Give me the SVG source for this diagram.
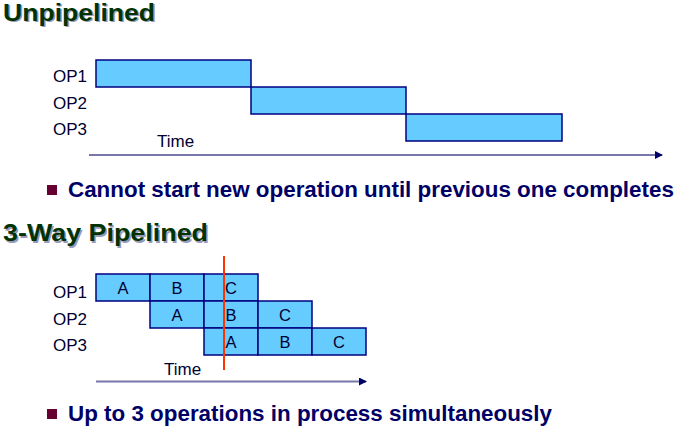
<svg xmlns="http://www.w3.org/2000/svg" width="677" height="426" viewBox="0 0 677 426">
<defs>
<style>
.title{font-family:"Liberation Sans",Arial,sans-serif;font-weight:bold;font-size:24px;fill:#003300}
.shadow{font-family:"Liberation Sans",Arial,sans-serif;font-weight:bold;font-size:24px;fill:#9999bb}
.lbl{font-family:"Liberation Sans",Arial,sans-serif;font-size:17px;fill:#000033}
.cell{font-family:"Liberation Sans",Arial,sans-serif;font-size:16.5px;fill:#000033;text-anchor:middle}
.bullet{font-family:"Liberation Sans",Arial,sans-serif;font-weight:bold;font-size:22.4px;fill:#000066}
.box{fill:#66ccff;stroke:#000080;stroke-width:1.5}
.axis{stroke:#7777aa;stroke-width:2;fill:none}
</style>
<marker id="arr" markerWidth="8" markerHeight="8" refX="7" refY="4" orient="auto" markerUnits="userSpaceOnUse">
<path d="M0,0 L8,4 L0,8 Z" fill="#000066"/>
</marker>
</defs>
<rect width="677" height="426" fill="#ffffff"/>

<g id="title1">
<text class="shadow" x="4.5" y="22" textLength="152" lengthAdjust="spacingAndGlyphs">Unpipelined</text>
<text class="title" x="3" y="20.5" textLength="152" lengthAdjust="spacingAndGlyphs">Unpipelined</text>
</g>

<g id="unpiped-labels">
<text class="lbl" x="53" y="81.5">OP1</text>
<text class="lbl" x="53" y="108.5">OP2</text>
<text class="lbl" x="53" y="135">OP3</text>
<text class="lbl" x="157" y="146.5">Time</text>
</g>
<g id="u-op1"><rect class="box" x="96" y="60" width="155" height="27"/></g>
<g id="u-op2"><rect class="box" x="251" y="87" width="155" height="27"/></g>
<g id="u-op3"><rect class="box" x="406" y="114" width="156" height="27"/></g>

<g id="connectors">
<line class="axis" x1="89" y1="155" x2="662" y2="155" marker-end="url(#arr)"/>
<line class="axis" x1="96" y1="381.5" x2="366" y2="381.5" marker-end="url(#arr)"/>
</g>

<g id="bullet1">
<rect x="47" y="185" width="10" height="10" fill="#660033"/>
<text class="bullet" x="68" y="196.5">Cannot start new operation until previous one completes</text>
</g>

<g id="title2">
<text class="shadow" x="4.5" y="242.5" textLength="205" lengthAdjust="spacingAndGlyphs">3-Way Pipelined</text>
<text class="title" x="3" y="241" textLength="205" lengthAdjust="spacingAndGlyphs">3-Way Pipelined</text>
</g>

<g id="piped-labels">
<text class="lbl" x="53" y="297.5">OP1</text>
<text class="lbl" x="53" y="324.5">OP2</text>
<text class="lbl" x="53" y="351">OP3</text>
<text class="lbl" x="164" y="375">Time</text>
</g>

<g id="p-op1">
<rect class="box" x="96" y="274" width="54" height="27"/><text class="cell" x="123" y="293.5">A</text>
<rect class="box" x="150" y="274" width="54" height="27"/><text class="cell" x="177" y="293.5">B</text>
<rect class="box" x="204" y="274" width="54" height="27"/><text class="cell" x="231" y="293.5">C</text>
</g>
<g id="p-op2">
<rect class="box" x="150" y="301" width="54" height="27"/><text class="cell" x="177" y="320.5">A</text>
<rect class="box" x="204" y="301" width="54" height="27"/><text class="cell" x="231" y="320.5">B</text>
<rect class="box" x="258" y="301" width="54" height="27"/><text class="cell" x="285" y="320.5">C</text>
</g>
<g id="p-op3">
<rect class="box" x="204" y="328" width="54" height="27"/><text class="cell" x="231" y="347.5">A</text>
<rect class="box" x="258" y="328" width="54" height="27"/><text class="cell" x="285" y="347.5">B</text>
<rect class="box" x="312" y="328" width="54" height="27"/><text class="cell" x="339" y="347.5">C</text>
</g>
<g id="redline"><line x1="224" y1="256" x2="224" y2="370" stroke="#ff3300" stroke-width="2"/></g>

<g id="bullet2">
<rect x="47" y="409" width="10" height="10" fill="#660033"/>
<text class="bullet" x="68" y="420.5">Up to 3 operations in process simultaneously</text>
</g>
</svg>
